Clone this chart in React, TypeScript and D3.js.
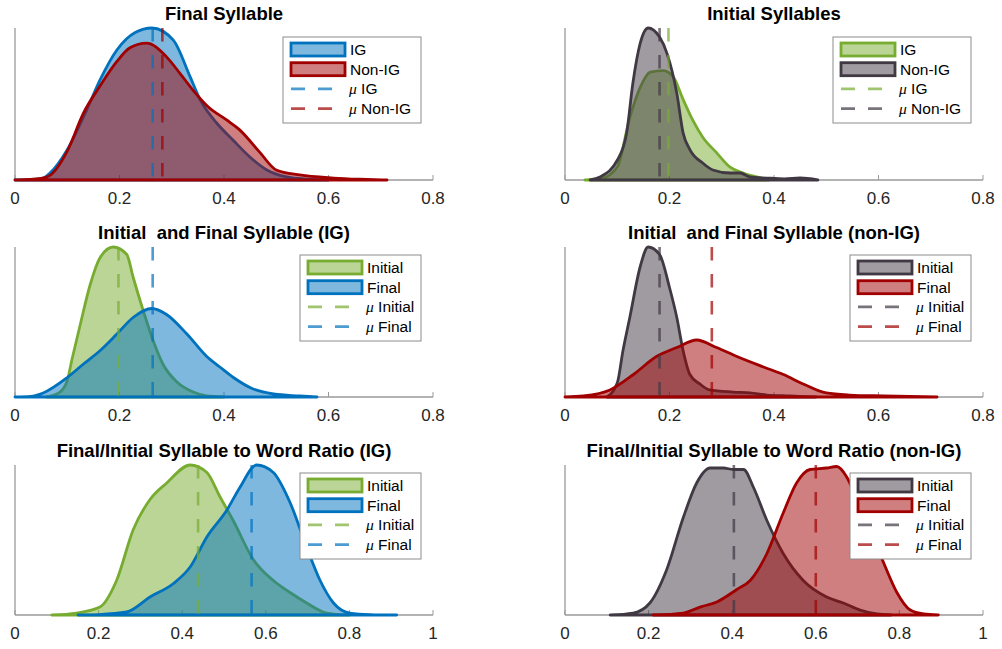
import React, {useEffect, useRef} from "react";
import * as d3 from "d3";

const W = 1002;
const H = 649;

// kernel density curves: [value, density relative to the panel top]
const finalIG: [number, number][] = [
    [0, 0], [0.03, 0.002], [0.054, 0.012], [0.067, 0.046], [0.1, 0.2], [0.137, 0.46], [0.163, 0.66],
    [0.195, 0.855], [0.23, 0.97], [0.262, 1.0], [0.303, 0.92], [0.335, 0.68], [0.354, 0.53],
    [0.386, 0.375], [0.418, 0.26], [0.45, 0.15], [0.482, 0.066], [0.52, 0.02], [0.56, 0.005], [0.6, 0]
];
const finalNonIG: [number, number][] = [
    [0, 0], [0.05, 0.01], [0.067, 0.03], [0.1, 0.19], [0.131, 0.44], [0.163, 0.62], [0.195, 0.78],
    [0.22, 0.87], [0.252, 0.9], [0.29, 0.81], [0.316, 0.7], [0.341, 0.59], [0.37, 0.48], [0.405, 0.395],
    [0.43, 0.33], [0.469, 0.18], [0.5, 0.066], [0.545, 0.033], [0.61, 0.013], [0.66, 0.005], [0.712, 0]
];
const initialIG: [number, number][] = [
    [0.038, 0], [0.07, 0.01], [0.1, 0.085], [0.124, 0.41], [0.144, 0.61], [0.163, 0.71], [0.188, 0.72],
    [0.207, 0.68], [0.226, 0.53], [0.245, 0.39], [0.264, 0.28], [0.29, 0.18], [0.316, 0.085],
    [0.341, 0.046], [0.367, 0.02], [0.39, 0]
];
const initialNonIG: [number, number][] = [
    [0.048, 0], [0.067, 0.02], [0.1, 0.13], [0.118, 0.31], [0.13, 0.64], [0.144, 0.9], [0.159, 1.0],
    [0.181, 0.94], [0.195, 0.835], [0.214, 0.57], [0.226, 0.31], [0.239, 0.2], [0.264, 0.11],
    [0.283, 0.066], [0.316, 0.046], [0.335, 0.046], [0.354, 0.02], [0.386, 0.013], [0.42, 0.008],
    [0.45, 0.013], [0.484, 0]
];
const igInitial: [number, number][] = [
    [0.06, 0], [0.086, 0.033], [0.1, 0.11], [0.109, 0.25], [0.124, 0.47], [0.144, 0.75], [0.163, 0.93],
    [0.188, 1.0], [0.214, 0.95], [0.226, 0.8], [0.245, 0.58], [0.264, 0.38], [0.283, 0.22], [0.31, 0.1],
    [0.341, 0.033], [0.367, 0.007], [0.4, 0]
];
const igFinal: [number, number][] = [
    [0, 0], [0.03, 0.004], [0.054, 0.027], [0.1, 0.13], [0.131, 0.22], [0.163, 0.31], [0.195, 0.42],
    [0.226, 0.53], [0.262, 0.59], [0.29, 0.55], [0.329, 0.42], [0.367, 0.27], [0.392, 0.2], [0.418, 0.13],
    [0.456, 0.053], [0.495, 0.02], [0.545, 0.007], [0.578, 0]
];
const nonIgInitial: [number, number][] = [
    [0.08, 0], [0.1, 0.093], [0.111, 0.31], [0.124, 0.53], [0.144, 0.87], [0.159, 1.0], [0.181, 0.95],
    [0.2, 0.73], [0.214, 0.53], [0.226, 0.31], [0.239, 0.15], [0.258, 0.087], [0.277, 0.047],
    [0.322, 0.033], [0.354, 0.027], [0.386, 0.013], [0.43, 0.007], [0.48, 0]
];
const nonIgFinal: [number, number][] = [
    [0, 0], [0.035, 0.007], [0.086, 0.047], [0.131, 0.15], [0.175, 0.27], [0.214, 0.33], [0.252, 0.38],
    [0.29, 0.33], [0.329, 0.27], [0.38, 0.2], [0.418, 0.15], [0.456, 0.087], [0.5, 0.027],
    [0.545, 0.013], [0.61, 0.007], [0.712, 0]
];
const ratioIgInitial: [number, number][] = [
    [0.088, 0], [0.147, 0.013], [0.203, 0.053], [0.243, 0.23], [0.283, 0.57], [0.323, 0.77],
    [0.363, 0.88], [0.419, 1.0], [0.459, 0.95], [0.49, 0.79], [0.522, 0.63], [0.57, 0.37],
    [0.618, 0.23], [0.658, 0.15], [0.698, 0.08], [0.746, 0.013], [0.8, 0]
];
const ratioIgFinal: [number, number][] = [
    [0.151, 0], [0.2, 0.003], [0.267, 0.02], [0.323, 0.12], [0.379, 0.21], [0.419, 0.32], [0.459, 0.52],
    [0.507, 0.7], [0.538, 0.85], [0.578, 1.0], [0.618, 0.95], [0.658, 0.75], [0.698, 0.45], [0.73, 0.23],
    [0.762, 0.08], [0.801, 0.013], [0.85, 0.003], [0.913, 0]
];
const ratioNonIgInitial: [number, number][] = [
    [0.108, 0], [0.163, 0.013], [0.203, 0.08], [0.243, 0.3], [0.283, 0.65], [0.315, 0.88], [0.347, 0.98],
    [0.379, 0.98], [0.403, 0.97], [0.427, 0.97], [0.451, 0.85], [0.483, 0.63], [0.522, 0.41],
    [0.57, 0.23], [0.626, 0.12], [0.666, 0.08], [0.706, 0.033], [0.746, 0.007], [0.78, 0]
];
const ratioNonIgFinal: [number, number][] = [
    [0.211, 0], [0.283, 0.013], [0.323, 0.053], [0.363, 0.087], [0.411, 0.17], [0.443, 0.23],
    [0.483, 0.41], [0.522, 0.68], [0.554, 0.88], [0.586, 0.97], [0.626, 0.98], [0.65, 0.99],
    [0.674, 0.92], [0.698, 0.77], [0.73, 0.57], [0.762, 0.35], [0.794, 0.15], [0.826, 0.033],
    [0.858, 0.007], [0.893, 0]
];

const titles = [
    "Final Syllable",
    "Initial Syllables",
    "Initial  and Final Syllable (IG)",
    "Initial  and Final Syllable (non-IG)",
    "Final/Initial Syllable to Word Ratio (IG)",
    "Final/Initial Syllable to Word Ratio (non-IG)"
];
const means = [[0.2635, 0.282], [0.198, 0.181], [0.198, 0.2635], [0.181, 0.281], [0.438, 0.566], [0.404, 0.6]];
const seriesNames = [["IG", "Non-IG"], ["IG", "Non-IG"], ["Initial", "Final"], ["Initial", "Final"], ["Initial", "Final"], ["Initial", "Final"]];
const ticksShort = [0, 0.2, 0.4, 0.6, 0.8];
const ticksLong = [0, 0.2, 0.4, 0.6, 0.8, 1];

const BLUE = "#0072BD";
const RED = "#A00000";
const GREEN = "#77AC30";
const GRAY = "#403843";

const panels = [
    {curves: [finalIG, finalNonIG], colors: [BLUE, RED], ticks: ticksShort},
    {curves: [initialIG, initialNonIG], colors: [GREEN, GRAY], ticks: ticksShort},
    {curves: [igInitial, igFinal], colors: [GREEN, BLUE], ticks: ticksShort},
    {curves: [nonIgInitial, nonIgFinal], colors: [GRAY, RED], ticks: ticksShort},
    {curves: [ratioIgInitial, ratioIgFinal], colors: [GREEN, BLUE], ticks: ticksLong},
    {curves: [ratioNonIgInitial, ratioNonIgFinal], colors: [GRAY, RED], ticks: ticksLong}
];

const cols = [[15, 433], [565, 983]];
const rows = [[28, 180], [247, 397], [465, 615]];

const FONT = "'Liberation Sans', Arial, Helvetica, sans-serif";

const App = () => {
    const ref = useRef<SVGSVGElement>(null);

    useEffect(() => {
        const svg = d3.select(ref.current);
        svg.selectAll("*").remove();

        panels.forEach((p, i) => {
            const [x0, x1] = cols[i % 2];
            const [top, bottom] = rows[Math.floor(i / 2)];
            const xMax = p.ticks[p.ticks.length - 1];
            const x = d3.scaleLinear().domain([0, xMax]).range([x0, x1]);
            const y = d3.scaleLinear().domain([0, 1]).range([bottom, top]);
            const g = svg.append("g");

            // axes
            g.append("line").attr("x1", x0).attr("x2", x0).attr("y1", top).attr("y2", bottom)
                .attr("stroke", "#9a9a9a").attr("stroke-width", 1.3);
            g.append("line").attr("x1", x0).attr("x2", x1).attr("y1", bottom).attr("y2", bottom)
                .attr("stroke", "#9a9a9a").attr("stroke-width", 1.3);
            g.selectAll(".tick").data(p.ticks).join("line")
                .attr("x1", d => x(d)).attr("x2", d => x(d))
                .attr("y1", bottom).attr("y2", bottom - 5)
                .attr("stroke", "#9a9a9a").attr("stroke-width", 1);
            g.selectAll(".ticklabel").data(p.ticks).join("text")
                .attr("x", d => x(d)).attr("y", bottom + 24)
                .attr("text-anchor", "middle")
                .attr("font-family", FONT).attr("font-size", 17).attr("fill", "#262626")
                .text(d => d3.format("~g")(d));

            // densities
            const area = d3.area<[number, number]>()
                .x(d => x(d[0])).y0(y(0)).y1(d => y(d[1]))
                .curve(d3.curveMonotoneX);
            p.curves.forEach((c, k) => {
                g.append("path").attr("d", area(c))
                    .attr("fill", p.colors[k]).attr("fill-opacity", 0.5)
                    .attr("stroke", p.colors[k]).attr("stroke-width", 2.8)
                    .attr("stroke-linejoin", "round");
            });

            // means
            means[i].forEach((m, k) => {
                g.append("line").attr("x1", x(m)).attr("x2", x(m)).attr("y1", top).attr("y2", bottom)
                    .attr("stroke", p.colors[k]).attr("stroke-opacity", 0.7)
                    .attr("stroke-width", 2.6).attr("stroke-dasharray", "13.5,13.5");
            });

            // title
            g.append("text").attr("x", (x0 + x1) / 2).attr("y", top - 8)
                .attr("text-anchor", "middle").attr("font-family", FONT)
                .attr("font-weight", "bold").attr("font-size", 18.5).attr("fill", "#000")
                .style("white-space", "pre")
                .text(titles[i]);

            // legend
            const names = seriesNames[i];
            const lw = names[0] === "IG" ? 138 : 121;
            const lx = x1 - 12 - lw;
            const ly = top + (i < 2 ? 9 : 8);
            const lg = g.append("g");
            lg.append("rect").attr("x", lx).attr("y", ly).attr("width", lw).attr("height", 86)
                .attr("fill", "#fff").attr("stroke", "#8c8c8c").attr("stroke-width", 1);
            const rowY = (r: number) => ly + 12.5 + r * 19.7;
            names.forEach((n, k) => {
                lg.append("rect").attr("x", lx + 8).attr("y", rowY(k) - 6.5)
                    .attr("width", 54).attr("height", 13)
                    .attr("fill", p.colors[k]).attr("fill-opacity", 0.5)
                    .attr("stroke", p.colors[k]).attr("stroke-width", 2.8);
                lg.append("text").attr("x", lx + 67).attr("y", rowY(k) + 5.5)
                    .attr("font-family", FONT).attr("font-size", 15.5).attr("fill", "#000")
                    .text(n);
            });
            names.forEach((n, k) => {
                const ry = rowY(k + 2);
                lg.append("line").attr("x1", lx + 8).attr("x2", lx + 62).attr("y1", ry).attr("y2", ry)
                    .attr("stroke", p.colors[k]).attr("stroke-opacity", 0.7)
                    .attr("stroke-width", 2.6).attr("stroke-dasharray", "14,13");
                const t = lg.append("text").attr("x", lx + 66).attr("y", ry + 5.5)
                    .attr("font-family", FONT).attr("font-size", 15.5).attr("fill", "#000");
                t.append("tspan").attr("font-family", "'Liberation Serif', serif")
                    .attr("font-style", "italic").text("\u03bc");
                t.append("tspan").text(" " + n);
            });
        });
    }, []);

    return (
        <svg width={W} height={H} ref={ref}
             style={{position: "absolute", left: 0, top: 0, background: "#fff"}}/>
    );
};

export default App;
